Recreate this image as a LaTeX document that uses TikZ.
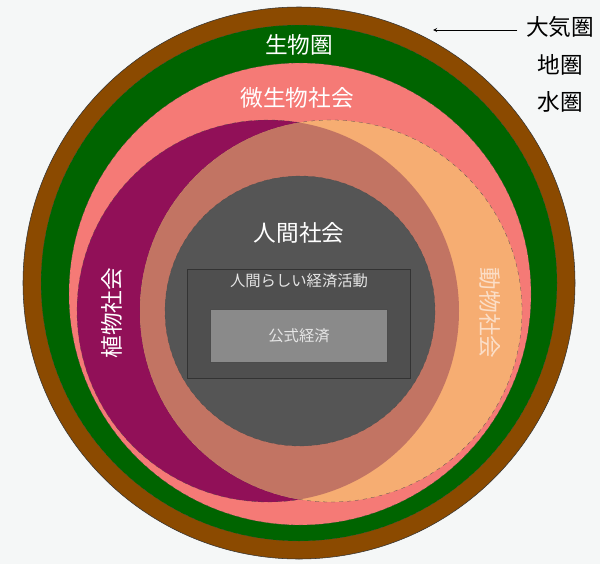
\documentclass[tikz,border=0pt]{standalone}
\usepackage{fontspec}
\newfontfamily\jp{Noto Sans CJK JP}
\definecolor{bgc}{HTML}{F5F7F7}
\definecolor{soil}{HTML}{8B4A00}
\definecolor{bio}{HTML}{006400}
\definecolor{micro}{HTML}{F57A76}
\definecolor{plant}{HTML}{911058}
\definecolor{animal}{HTML}{F6AD72}
\definecolor{both}{HTML}{C27463}
\definecolor{human}{HTML}{555555}
\definecolor{econ}{HTML}{4F4F4F}
\definecolor{formal}{HTML}{8A8A8A}
\tikzset{
  ring/.style={draw=black!70,dashed,very thin},
  lbl/.style={font=\jp\fontsize{17}{20}\selectfont,text=white},
  small/.style={font=\jp\fontsize{11.5}{14}\selectfont,text=white!90!black}
}

\begin{document}
\begin{tikzpicture}[x=0.75pt,y=-0.75pt]
      \fill[bgc] (0,0) rectangle (600,564);
      \useasboundingbox (0,0) rectangle (600,564);

      \draw[fill=soil,draw=black!80] (299,283) circle (276);
      \draw[ring,fill=bio] (299,283) circle (258);
      \draw[ring,fill=micro] (300,294) circle (231);
      \draw[ring,fill=plant] (268,311) circle (191);
      \draw[ring,fill=animal] (331,311) circle (191);
      \begin{scope}
        \clip (268,311) circle (191);
        \fill[both] (331,311) circle (191);
      \end{scope}
      \draw[ring,fill=human] (300,311) circle (135);

      \draw[fill=econ,draw=black!80] (187,269) rectangle (410,378);
      \draw[fill=formal,draw=black!70] (210,309) rectangle (387,362);

      \node[lbl] (biosphere) at (299,45) {生物圏};
      \node[lbl] (microbe) at (297,98) {微生物社会};
      \node[lbl,rotate=90] (plants) at (112,313) {植物社会};
      \node[lbl,rotate=-90,text=animal!40] (animals) at (490,313) {動物社会};
      \node[lbl] (society) at (299,233) {人間社会};
      \node[small] (activity) at (299,281) {人間らしい経済活動};
      \node[small] (official) at (299,336) {公式経済};

      \node[lbl,text=black,align=center,anchor=north,font=\jp\fontsize{17}{28}\selectfont] (spheres) at (560,12) {大気圏\\地圏\\水圏};
      \coordinate (edge) at (433,30);
      \draw[-stealth] (spheres.west |- edge) ++(-4,0) -- (edge);
    \end{tikzpicture}
\end{document}
